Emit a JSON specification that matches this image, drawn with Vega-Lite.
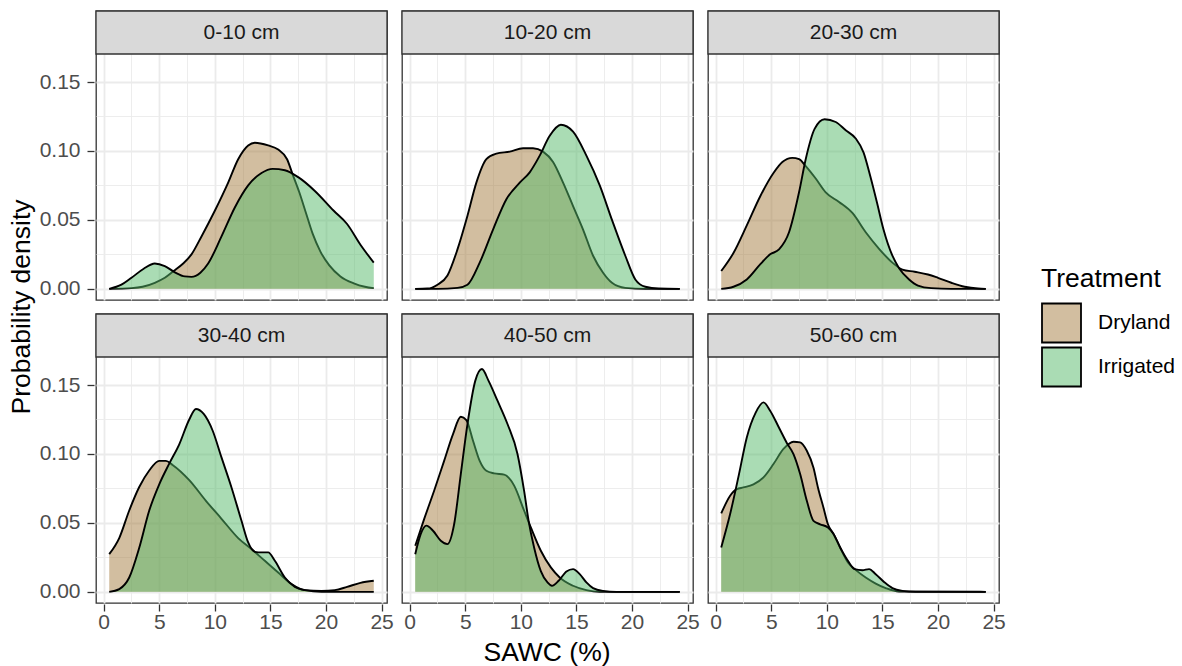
{
  "$schema": "https://vega.github.io/schema/vega-lite/v6.json",
  "padding": {"left": 8, "top": 9, "right": 5, "bottom": 0},
  "datasets": {
    "dens": [
      {"depth":"0-10 cm","treatment":"Dryland","sawc":0.5,"density":0},
      {"depth":"0-10 cm","treatment":"Dryland","sawc":2.5,"density":0.0005},
      {"depth":"0-10 cm","treatment":"Dryland","sawc":3.5,"density":0.0015},
      {"depth":"0-10 cm","treatment":"Dryland","sawc":4.6,"density":0.0044},
      {"depth":"0-10 cm","treatment":"Dryland","sawc":5.5,"density":0.008},
      {"depth":"0-10 cm","treatment":"Dryland","sawc":6.3,"density":0.0129},
      {"depth":"0-10 cm","treatment":"Dryland","sawc":7.1,"density":0.018},
      {"depth":"0-10 cm","treatment":"Dryland","sawc":7.9,"density":0.025},
      {"depth":"0-10 cm","treatment":"Dryland","sawc":8.8,"density":0.038},
      {"depth":"0-10 cm","treatment":"Dryland","sawc":10,"density":0.0566},
      {"depth":"0-10 cm","treatment":"Dryland","sawc":11.2,"density":0.077},
      {"depth":"0-10 cm","treatment":"Dryland","sawc":12.1,"density":0.094},
      {"depth":"0-10 cm","treatment":"Dryland","sawc":13,"density":0.104},
      {"depth":"0-10 cm","treatment":"Dryland","sawc":13.6,"density":0.106},
      {"depth":"0-10 cm","treatment":"Dryland","sawc":14.8,"density":0.104},
      {"depth":"0-10 cm","treatment":"Dryland","sawc":15.7,"density":0.101},
      {"depth":"0-10 cm","treatment":"Dryland","sawc":16.5,"density":0.094},
      {"depth":"0-10 cm","treatment":"Dryland","sawc":17,"density":0.083},
      {"depth":"0-10 cm","treatment":"Dryland","sawc":17.6,"density":0.07},
      {"depth":"0-10 cm","treatment":"Dryland","sawc":18.2,"density":0.055},
      {"depth":"0-10 cm","treatment":"Dryland","sawc":18.8,"density":0.04},
      {"depth":"0-10 cm","treatment":"Dryland","sawc":19.5,"density":0.027},
      {"depth":"0-10 cm","treatment":"Dryland","sawc":20.3,"density":0.017},
      {"depth":"0-10 cm","treatment":"Dryland","sawc":21.3,"density":0.009},
      {"depth":"0-10 cm","treatment":"Dryland","sawc":22.5,"density":0.004},
      {"depth":"0-10 cm","treatment":"Dryland","sawc":23.5,"density":0.0015},
      {"depth":"0-10 cm","treatment":"Dryland","sawc":24.3,"density":0.0005},

      {"depth":"0-10 cm","treatment":"Irrigated","sawc":0.5,"density":0},
      {"depth":"0-10 cm","treatment":"Irrigated","sawc":1.6,"density":0.003},
      {"depth":"0-10 cm","treatment":"Irrigated","sawc":2.5,"density":0.008},
      {"depth":"0-10 cm","treatment":"Irrigated","sawc":3.6,"density":0.0146},
      {"depth":"0-10 cm","treatment":"Irrigated","sawc":4.6,"density":0.0184},
      {"depth":"0-10 cm","treatment":"Irrigated","sawc":5.5,"density":0.0165},
      {"depth":"0-10 cm","treatment":"Irrigated","sawc":6.4,"density":0.012},
      {"depth":"0-10 cm","treatment":"Irrigated","sawc":7.3,"density":0.009},
      {"depth":"0-10 cm","treatment":"Irrigated","sawc":7.9,"density":0.0087},
      {"depth":"0-10 cm","treatment":"Irrigated","sawc":8.7,"density":0.0117},
      {"depth":"0-10 cm","treatment":"Irrigated","sawc":9.4,"density":0.0184},
      {"depth":"0-10 cm","treatment":"Irrigated","sawc":10.6,"density":0.038},
      {"depth":"0-10 cm","treatment":"Irrigated","sawc":11.8,"density":0.059},
      {"depth":"0-10 cm","treatment":"Irrigated","sawc":13,"density":0.075},
      {"depth":"0-10 cm","treatment":"Irrigated","sawc":14.2,"density":0.084},
      {"depth":"0-10 cm","treatment":"Irrigated","sawc":15.2,"density":0.087},
      {"depth":"0-10 cm","treatment":"Irrigated","sawc":16.3,"density":0.086},
      {"depth":"0-10 cm","treatment":"Irrigated","sawc":17.5,"density":0.081},
      {"depth":"0-10 cm","treatment":"Irrigated","sawc":19,"density":0.071},
      {"depth":"0-10 cm","treatment":"Irrigated","sawc":20.7,"density":0.0566},
      {"depth":"0-10 cm","treatment":"Irrigated","sawc":21.9,"density":0.047},
      {"depth":"0-10 cm","treatment":"Irrigated","sawc":23.1,"density":0.032},
      {"depth":"0-10 cm","treatment":"Irrigated","sawc":24.3,"density":0.019},

      {"depth":"10-20 cm","treatment":"Dryland","sawc":0.5,"density":0},
      {"depth":"10-20 cm","treatment":"Dryland","sawc":1.6,"density":0.0002},
      {"depth":"10-20 cm","treatment":"Dryland","sawc":2.5,"density":0.003},
      {"depth":"10-20 cm","treatment":"Dryland","sawc":3.4,"density":0.0097},
      {"depth":"10-20 cm","treatment":"Dryland","sawc":4.3,"density":0.0286},
      {"depth":"10-20 cm","treatment":"Dryland","sawc":5.2,"density":0.053},
      {"depth":"10-20 cm","treatment":"Dryland","sawc":6,"density":0.077},
      {"depth":"10-20 cm","treatment":"Dryland","sawc":6.9,"density":0.094},
      {"depth":"10-20 cm","treatment":"Dryland","sawc":7.8,"density":0.098},
      {"depth":"10-20 cm","treatment":"Dryland","sawc":9,"density":0.0995},
      {"depth":"10-20 cm","treatment":"Dryland","sawc":10.2,"density":0.102},
      {"depth":"10-20 cm","treatment":"Dryland","sawc":11.1,"density":0.102},
      {"depth":"10-20 cm","treatment":"Dryland","sawc":12,"density":0.0995},
      {"depth":"10-20 cm","treatment":"Dryland","sawc":12.9,"density":0.092},
      {"depth":"10-20 cm","treatment":"Dryland","sawc":13.8,"density":0.077},
      {"depth":"10-20 cm","treatment":"Dryland","sawc":14.7,"density":0.06},
      {"depth":"10-20 cm","treatment":"Dryland","sawc":15.6,"density":0.043},
      {"depth":"10-20 cm","treatment":"Dryland","sawc":16.5,"density":0.024},
      {"depth":"10-20 cm","treatment":"Dryland","sawc":17.4,"density":0.0117},
      {"depth":"10-20 cm","treatment":"Dryland","sawc":18.2,"density":0.0044},
      {"depth":"10-20 cm","treatment":"Dryland","sawc":19.4,"density":0.0007},
      {"depth":"10-20 cm","treatment":"Dryland","sawc":21.2,"density":0},
      {"depth":"10-20 cm","treatment":"Dryland","sawc":24.3,"density":0},

      {"depth":"10-20 cm","treatment":"Irrigated","sawc":0.5,"density":0},
      {"depth":"10-20 cm","treatment":"Irrigated","sawc":2.5,"density":0},
      {"depth":"10-20 cm","treatment":"Irrigated","sawc":4.3,"density":0.0007},
      {"depth":"10-20 cm","treatment":"Irrigated","sawc":5.2,"density":0.003},
      {"depth":"10-20 cm","treatment":"Irrigated","sawc":6.3,"density":0.019},
      {"depth":"10-20 cm","treatment":"Irrigated","sawc":7.5,"density":0.043},
      {"depth":"10-20 cm","treatment":"Irrigated","sawc":8.7,"density":0.065},
      {"depth":"10-20 cm","treatment":"Irrigated","sawc":9.9,"density":0.077},
      {"depth":"10-20 cm","treatment":"Irrigated","sawc":10.8,"density":0.0845},
      {"depth":"10-20 cm","treatment":"Irrigated","sawc":11.7,"density":0.0966},
      {"depth":"10-20 cm","treatment":"Irrigated","sawc":12.6,"density":0.111},
      {"depth":"10-20 cm","treatment":"Irrigated","sawc":13.6,"density":0.119},
      {"depth":"10-20 cm","treatment":"Irrigated","sawc":14.7,"density":0.114},
      {"depth":"10-20 cm","treatment":"Irrigated","sawc":15.9,"density":0.0966},
      {"depth":"10-20 cm","treatment":"Irrigated","sawc":17.1,"density":0.075},
      {"depth":"10-20 cm","treatment":"Irrigated","sawc":18.2,"density":0.05},
      {"depth":"10-20 cm","treatment":"Irrigated","sawc":19.4,"density":0.024},
      {"depth":"10-20 cm","treatment":"Irrigated","sawc":20.3,"density":0.0068},
      {"depth":"10-20 cm","treatment":"Irrigated","sawc":21.2,"density":0.0015},
      {"depth":"10-20 cm","treatment":"Irrigated","sawc":22.4,"density":0.0002},
      {"depth":"10-20 cm","treatment":"Irrigated","sawc":24.3,"density":0},

      {"depth":"20-30 cm","treatment":"Dryland","sawc":0.5,"density":0.0129},
      {"depth":"20-30 cm","treatment":"Dryland","sawc":1.6,"density":0.026},
      {"depth":"20-30 cm","treatment":"Dryland","sawc":2.8,"density":0.046},
      {"depth":"20-30 cm","treatment":"Dryland","sawc":4,"density":0.067},
      {"depth":"20-30 cm","treatment":"Dryland","sawc":5.2,"density":0.084},
      {"depth":"20-30 cm","treatment":"Dryland","sawc":6,"density":0.092},
      {"depth":"20-30 cm","treatment":"Dryland","sawc":6.9,"density":0.095},
      {"depth":"20-30 cm","treatment":"Dryland","sawc":7.5,"density":0.094},
      {"depth":"20-30 cm","treatment":"Dryland","sawc":8.1,"density":0.089},
      {"depth":"20-30 cm","treatment":"Dryland","sawc":9,"density":0.08},
      {"depth":"20-30 cm","treatment":"Dryland","sawc":9.9,"density":0.07},
      {"depth":"20-30 cm","treatment":"Dryland","sawc":11.1,"density":0.063},
      {"depth":"20-30 cm","treatment":"Dryland","sawc":12.3,"density":0.055},
      {"depth":"20-30 cm","treatment":"Dryland","sawc":13.5,"density":0.041},
      {"depth":"20-30 cm","treatment":"Dryland","sawc":14.7,"density":0.029},
      {"depth":"20-30 cm","treatment":"Dryland","sawc":15.9,"density":0.019},
      {"depth":"20-30 cm","treatment":"Dryland","sawc":16.8,"density":0.014},
      {"depth":"20-30 cm","treatment":"Dryland","sawc":17.9,"density":0.0124},
      {"depth":"20-30 cm","treatment":"Dryland","sawc":19.1,"density":0.0104},
      {"depth":"20-30 cm","treatment":"Dryland","sawc":20,"density":0.008},
      {"depth":"20-30 cm","treatment":"Dryland","sawc":21.2,"density":0.0044},
      {"depth":"20-30 cm","treatment":"Dryland","sawc":22.4,"density":0.0015},
      {"depth":"20-30 cm","treatment":"Dryland","sawc":23.6,"density":0.0002},
      {"depth":"20-30 cm","treatment":"Dryland","sawc":24.3,"density":0},

      {"depth":"20-30 cm","treatment":"Irrigated","sawc":0.5,"density":0},
      {"depth":"20-30 cm","treatment":"Irrigated","sawc":1.6,"density":0.0015},
      {"depth":"20-30 cm","treatment":"Irrigated","sawc":2.8,"density":0.0068},
      {"depth":"20-30 cm","treatment":"Irrigated","sawc":4,"density":0.0177},
      {"depth":"20-30 cm","treatment":"Irrigated","sawc":4.9,"density":0.025},
      {"depth":"20-30 cm","treatment":"Irrigated","sawc":5.7,"density":0.0286},
      {"depth":"20-30 cm","treatment":"Irrigated","sawc":6.6,"density":0.041},
      {"depth":"20-30 cm","treatment":"Irrigated","sawc":7.5,"density":0.07},
      {"depth":"20-30 cm","treatment":"Irrigated","sawc":8.1,"density":0.094},
      {"depth":"20-30 cm","treatment":"Irrigated","sawc":8.9,"density":0.116},
      {"depth":"20-30 cm","treatment":"Irrigated","sawc":9.8,"density":0.123},
      {"depth":"20-30 cm","treatment":"Irrigated","sawc":10.8,"density":0.121},
      {"depth":"20-30 cm","treatment":"Irrigated","sawc":11.7,"density":0.115},
      {"depth":"20-30 cm","treatment":"Irrigated","sawc":12.6,"density":0.109},
      {"depth":"20-30 cm","treatment":"Irrigated","sawc":13.3,"density":0.099},
      {"depth":"20-30 cm","treatment":"Irrigated","sawc":13.9,"density":0.082},
      {"depth":"20-30 cm","treatment":"Irrigated","sawc":14.5,"density":0.063},
      {"depth":"20-30 cm","treatment":"Irrigated","sawc":15.1,"density":0.043},
      {"depth":"20-30 cm","treatment":"Irrigated","sawc":15.9,"density":0.024},
      {"depth":"20-30 cm","treatment":"Irrigated","sawc":16.5,"density":0.015},
      {"depth":"20-30 cm","treatment":"Irrigated","sawc":17.4,"density":0.0068},
      {"depth":"20-30 cm","treatment":"Irrigated","sawc":18.2,"density":0.0024},
      {"depth":"20-30 cm","treatment":"Irrigated","sawc":19.4,"density":0.0005},
      {"depth":"20-30 cm","treatment":"Irrigated","sawc":21.2,"density":0},
      {"depth":"20-30 cm","treatment":"Irrigated","sawc":24.3,"density":0},

      {"depth":"30-40 cm","treatment":"Dryland","sawc":0.5,"density":0.0273},
      {"depth":"30-40 cm","treatment":"Dryland","sawc":1.4,"density":0.039},
      {"depth":"30-40 cm","treatment":"Dryland","sawc":2.3,"density":0.059},
      {"depth":"30-40 cm","treatment":"Dryland","sawc":3.2,"density":0.076},
      {"depth":"30-40 cm","treatment":"Dryland","sawc":4.1,"density":0.088},
      {"depth":"30-40 cm","treatment":"Dryland","sawc":5,"density":0.095},
      {"depth":"30-40 cm","treatment":"Dryland","sawc":5.6,"density":0.095},
      {"depth":"30-40 cm","treatment":"Dryland","sawc":6.2,"density":0.092},
      {"depth":"30-40 cm","treatment":"Dryland","sawc":7.7,"density":0.081},
      {"depth":"30-40 cm","treatment":"Dryland","sawc":9.2,"density":0.066},
      {"depth":"30-40 cm","treatment":"Dryland","sawc":10.6,"density":0.053},
      {"depth":"30-40 cm","treatment":"Dryland","sawc":12.1,"density":0.039},
      {"depth":"30-40 cm","treatment":"Dryland","sawc":13.3,"density":0.031},
      {"depth":"30-40 cm","treatment":"Dryland","sawc":14.5,"density":0.0225},
      {"depth":"30-40 cm","treatment":"Dryland","sawc":15.7,"density":0.014},
      {"depth":"30-40 cm","treatment":"Dryland","sawc":16.9,"density":0.0056},
      {"depth":"30-40 cm","treatment":"Dryland","sawc":18.1,"density":0.0012},
      {"depth":"30-40 cm","treatment":"Dryland","sawc":19.6,"density":0.0007},
      {"depth":"30-40 cm","treatment":"Dryland","sawc":20.8,"density":0.0012},
      {"depth":"30-40 cm","treatment":"Dryland","sawc":21.9,"density":0.0036},
      {"depth":"30-40 cm","treatment":"Dryland","sawc":23.1,"density":0.0065},
      {"depth":"30-40 cm","treatment":"Dryland","sawc":24.3,"density":0.008},

      {"depth":"30-40 cm","treatment":"Irrigated","sawc":0.5,"density":0},
      {"depth":"30-40 cm","treatment":"Irrigated","sawc":1.4,"density":0.002},
      {"depth":"30-40 cm","treatment":"Irrigated","sawc":2.3,"density":0.0104},
      {"depth":"30-40 cm","treatment":"Irrigated","sawc":3.2,"density":0.032},
      {"depth":"30-40 cm","treatment":"Irrigated","sawc":4.1,"density":0.059},
      {"depth":"30-40 cm","treatment":"Irrigated","sawc":5,"density":0.078},
      {"depth":"30-40 cm","treatment":"Irrigated","sawc":5.9,"density":0.093},
      {"depth":"30-40 cm","treatment":"Irrigated","sawc":6.8,"density":0.107},
      {"depth":"30-40 cm","treatment":"Irrigated","sawc":7.7,"density":0.125},
      {"depth":"30-40 cm","treatment":"Irrigated","sawc":8.3,"density":0.1326},
      {"depth":"30-40 cm","treatment":"Irrigated","sawc":9,"density":0.129},
      {"depth":"30-40 cm","treatment":"Irrigated","sawc":9.8,"density":0.117},
      {"depth":"30-40 cm","treatment":"Irrigated","sawc":10.6,"density":0.0975},
      {"depth":"30-40 cm","treatment":"Irrigated","sawc":11.5,"density":0.0757},
      {"depth":"30-40 cm","treatment":"Irrigated","sawc":12.4,"density":0.0515},
      {"depth":"30-40 cm","treatment":"Irrigated","sawc":13,"density":0.0358},
      {"depth":"30-40 cm","treatment":"Irrigated","sawc":13.6,"density":0.029},
      {"depth":"30-40 cm","treatment":"Irrigated","sawc":14.2,"density":0.0286},
      {"depth":"30-40 cm","treatment":"Irrigated","sawc":14.8,"density":0.0286},
      {"depth":"30-40 cm","treatment":"Irrigated","sawc":15.4,"density":0.0225},
      {"depth":"30-40 cm","treatment":"Irrigated","sawc":16.3,"density":0.0104},
      {"depth":"30-40 cm","treatment":"Irrigated","sawc":17.2,"density":0.0036},
      {"depth":"30-40 cm","treatment":"Irrigated","sawc":18.1,"density":0.0012},
      {"depth":"30-40 cm","treatment":"Irrigated","sawc":19.6,"density":0},
      {"depth":"30-40 cm","treatment":"Irrigated","sawc":24.3,"density":0},

      {"depth":"40-50 cm","treatment":"Dryland","sawc":0.5,"density":0.0334},
      {"depth":"40-50 cm","treatment":"Dryland","sawc":1.3,"density":0.0527},
      {"depth":"40-50 cm","treatment":"Dryland","sawc":2.2,"density":0.0733},
      {"depth":"40-50 cm","treatment":"Dryland","sawc":3.1,"density":0.095},
      {"depth":"40-50 cm","treatment":"Dryland","sawc":3.9,"density":0.1144},
      {"depth":"40-50 cm","treatment":"Dryland","sawc":4.6,"density":0.127},
      {"depth":"40-50 cm","treatment":"Dryland","sawc":5.1,"density":0.1246},
      {"depth":"40-50 cm","treatment":"Dryland","sawc":5.7,"density":0.1096},
      {"depth":"40-50 cm","treatment":"Dryland","sawc":6.3,"density":0.095},
      {"depth":"40-50 cm","treatment":"Dryland","sawc":6.9,"density":0.0878},
      {"depth":"40-50 cm","treatment":"Dryland","sawc":7.6,"density":0.0859},
      {"depth":"40-50 cm","treatment":"Dryland","sawc":8.5,"density":0.085},
      {"depth":"40-50 cm","treatment":"Dryland","sawc":9.4,"density":0.077},
      {"depth":"40-50 cm","treatment":"Dryland","sawc":10.3,"density":0.0588},
      {"depth":"40-50 cm","treatment":"Dryland","sawc":10.9,"density":0.0467},
      {"depth":"40-50 cm","treatment":"Dryland","sawc":11.8,"density":0.0298},
      {"depth":"40-50 cm","treatment":"Dryland","sawc":12.7,"density":0.0177},
      {"depth":"40-50 cm","treatment":"Dryland","sawc":13.5,"density":0.0104},
      {"depth":"40-50 cm","treatment":"Dryland","sawc":14.7,"density":0.0044},
      {"depth":"40-50 cm","treatment":"Dryland","sawc":15.9,"density":0.0012},
      {"depth":"40-50 cm","treatment":"Dryland","sawc":17.1,"density":0},
      {"depth":"40-50 cm","treatment":"Dryland","sawc":24.3,"density":0},

      {"depth":"40-50 cm","treatment":"Irrigated","sawc":0.5,"density":0.0273},
      {"depth":"40-50 cm","treatment":"Irrigated","sawc":1,"density":0.042},
      {"depth":"40-50 cm","treatment":"Irrigated","sawc":1.5,"density":0.048},
      {"depth":"40-50 cm","treatment":"Irrigated","sawc":2.1,"density":0.0443},
      {"depth":"40-50 cm","treatment":"Irrigated","sawc":2.8,"density":0.037},
      {"depth":"40-50 cm","treatment":"Irrigated","sawc":3.4,"density":0.0346},
      {"depth":"40-50 cm","treatment":"Irrigated","sawc":4,"density":0.049},
      {"depth":"40-50 cm","treatment":"Irrigated","sawc":4.6,"density":0.0854},
      {"depth":"40-50 cm","treatment":"Irrigated","sawc":5.2,"density":0.1217},
      {"depth":"40-50 cm","treatment":"Irrigated","sawc":5.9,"density":0.153},
      {"depth":"40-50 cm","treatment":"Irrigated","sawc":6.5,"density":0.1616},
      {"depth":"40-50 cm","treatment":"Irrigated","sawc":7.1,"density":0.153},
      {"depth":"40-50 cm","treatment":"Irrigated","sawc":7.9,"density":0.1386},
      {"depth":"40-50 cm","treatment":"Irrigated","sawc":8.8,"density":0.1217},
      {"depth":"40-50 cm","treatment":"Irrigated","sawc":9.7,"density":0.1},
      {"depth":"40-50 cm","treatment":"Irrigated","sawc":10.3,"density":0.073},
      {"depth":"40-50 cm","treatment":"Irrigated","sawc":10.7,"density":0.0515},
      {"depth":"40-50 cm","treatment":"Irrigated","sawc":11.2,"density":0.032},
      {"depth":"40-50 cm","treatment":"Irrigated","sawc":11.8,"density":0.015},
      {"depth":"40-50 cm","treatment":"Irrigated","sawc":12.4,"density":0.0068},
      {"depth":"40-50 cm","treatment":"Irrigated","sawc":12.8,"density":0.0044},
      {"depth":"40-50 cm","treatment":"Irrigated","sawc":13.4,"density":0.008},
      {"depth":"40-50 cm","treatment":"Irrigated","sawc":14.1,"density":0.0148},
      {"depth":"40-50 cm","treatment":"Irrigated","sawc":14.7,"density":0.0165},
      {"depth":"40-50 cm","treatment":"Irrigated","sawc":15.3,"density":0.0128},
      {"depth":"40-50 cm","treatment":"Irrigated","sawc":15.9,"density":0.0068},
      {"depth":"40-50 cm","treatment":"Irrigated","sawc":16.5,"density":0.0027},
      {"depth":"40-50 cm","treatment":"Irrigated","sawc":17.4,"density":0.0007},
      {"depth":"40-50 cm","treatment":"Irrigated","sawc":18.6,"density":0},
      {"depth":"40-50 cm","treatment":"Irrigated","sawc":24.3,"density":0},

      {"depth":"50-60 cm","treatment":"Dryland","sawc":0.5,"density":0.0569},
      {"depth":"50-60 cm","treatment":"Dryland","sawc":1.3,"density":0.0697},
      {"depth":"50-60 cm","treatment":"Dryland","sawc":1.9,"density":0.0745},
      {"depth":"50-60 cm","treatment":"Dryland","sawc":2.5,"density":0.0757},
      {"depth":"50-60 cm","treatment":"Dryland","sawc":3.4,"density":0.078},
      {"depth":"50-60 cm","treatment":"Dryland","sawc":4.3,"density":0.083},
      {"depth":"50-60 cm","treatment":"Dryland","sawc":5.2,"density":0.0927},
      {"depth":"50-60 cm","treatment":"Dryland","sawc":6.1,"density":0.1036},
      {"depth":"50-60 cm","treatment":"Dryland","sawc":7,"density":0.1089},
      {"depth":"50-60 cm","treatment":"Dryland","sawc":7.6,"density":0.1084},
      {"depth":"50-60 cm","treatment":"Dryland","sawc":8.2,"density":0.1023},
      {"depth":"50-60 cm","treatment":"Dryland","sawc":8.8,"density":0.09},
      {"depth":"50-60 cm","treatment":"Dryland","sawc":9.2,"density":0.0757},
      {"depth":"50-60 cm","treatment":"Dryland","sawc":9.7,"density":0.061},
      {"depth":"50-60 cm","treatment":"Dryland","sawc":10.1,"density":0.049},
      {"depth":"50-60 cm","treatment":"Dryland","sawc":10.6,"density":0.042},
      {"depth":"50-60 cm","treatment":"Dryland","sawc":11.2,"density":0.032},
      {"depth":"50-60 cm","treatment":"Dryland","sawc":11.9,"density":0.0213},
      {"depth":"50-60 cm","treatment":"Dryland","sawc":12.7,"density":0.0152},
      {"depth":"50-60 cm","treatment":"Dryland","sawc":13.5,"density":0.0104},
      {"depth":"50-60 cm","treatment":"Dryland","sawc":14.4,"density":0.006},
      {"depth":"50-60 cm","treatment":"Dryland","sawc":15.3,"density":0.0027},
      {"depth":"50-60 cm","treatment":"Dryland","sawc":16.5,"density":0.0002},
      {"depth":"50-60 cm","treatment":"Dryland","sawc":24.3,"density":0},

      {"depth":"50-60 cm","treatment":"Irrigated","sawc":0.5,"density":0.0322},
      {"depth":"50-60 cm","treatment":"Irrigated","sawc":1.3,"density":0.0564},
      {"depth":"50-60 cm","treatment":"Irrigated","sawc":2.1,"density":0.0854},
      {"depth":"50-60 cm","treatment":"Irrigated","sawc":2.8,"density":0.112},
      {"depth":"50-60 cm","treatment":"Irrigated","sawc":3.6,"density":0.13},
      {"depth":"50-60 cm","treatment":"Irrigated","sawc":4.3,"density":0.1374},
      {"depth":"50-60 cm","treatment":"Irrigated","sawc":4.9,"density":0.1314},
      {"depth":"50-60 cm","treatment":"Irrigated","sawc":5.7,"density":0.119},
      {"depth":"50-60 cm","treatment":"Irrigated","sawc":6.4,"density":0.108},
      {"depth":"50-60 cm","treatment":"Irrigated","sawc":7,"density":0.0999},
      {"depth":"50-60 cm","treatment":"Irrigated","sawc":7.6,"density":0.0854},
      {"depth":"50-60 cm","treatment":"Irrigated","sawc":8.2,"density":0.066},
      {"depth":"50-60 cm","treatment":"Irrigated","sawc":8.8,"density":0.0515},
      {"depth":"50-60 cm","treatment":"Irrigated","sawc":9.4,"density":0.049},
      {"depth":"50-60 cm","treatment":"Irrigated","sawc":10.1,"density":0.0467},
      {"depth":"50-60 cm","treatment":"Irrigated","sawc":10.6,"density":0.042},
      {"depth":"50-60 cm","treatment":"Irrigated","sawc":11.2,"density":0.0322},
      {"depth":"50-60 cm","treatment":"Irrigated","sawc":11.9,"density":0.0225},
      {"depth":"50-60 cm","treatment":"Irrigated","sawc":12.5,"density":0.0165},
      {"depth":"50-60 cm","treatment":"Irrigated","sawc":13.2,"density":0.0157},
      {"depth":"50-60 cm","treatment":"Irrigated","sawc":13.8,"density":0.0165},
      {"depth":"50-60 cm","treatment":"Irrigated","sawc":14.4,"density":0.0128},
      {"depth":"50-60 cm","treatment":"Irrigated","sawc":15.2,"density":0.0068},
      {"depth":"50-60 cm","treatment":"Irrigated","sawc":15.9,"density":0.0027},
      {"depth":"50-60 cm","treatment":"Irrigated","sawc":16.8,"density":0.0007},
      {"depth":"50-60 cm","treatment":"Irrigated","sawc":18,"density":0},
      {"depth":"50-60 cm","treatment":"Irrigated","sawc":24.3,"density":0}
    ]
  },
  "data": {"name": "dens"},
  "transform": [
    {"calculate": "indexof(['0-10 cm','10-20 cm','20-30 cm'], datum.depth) >= 0 ? 'upper' : 'lower'", "as": "prow"},
    {"calculate": "indexof(['0-10 cm','30-40 cm'], datum.depth) >= 0 ? 'a' : (indexof(['10-20 cm','40-50 cm'], datum.depth) >= 0 ? 'b' : 'c')", "as": "pcol"}
  ],
  "facet": {
    "row": {
      "field": "prow", "type": "nominal", "sort": ["upper", "lower"],
      "header": {"title": "Probability density", "labels": false, "labelPadding": 0, "titleFontSize": 26.5, "titleFontWeight": "normal", "titleColor": "black", "titlePadding": -6}
    },
    "column": {
      "field": "pcol", "type": "nominal", "sort": ["a", "b", "c"],
      "header": {"title": "SAWC (%)", "titleOrient": "bottom", "labels": false, "labelPadding": 0, "titleFontSize": 26.5, "titleFontWeight": "normal", "titleColor": "black", "titlePadding": -2}
    }
  },
  "spacing": {"row": 11, "column": 11},
  "spec": {
    "width": 291,
    "height": 289,
    "encoding": {
      "x": {
        "field": "sawc", "type": "quantitative", "title": null,
        "scale": {"domain": [-0.69, 25.49], "nice": false, "zero": false},
        "axis": {
          "values": [0, 2.5, 5, 7.5, 10, 12.5, 15, 17.5, 20, 22.5, 25],
          "labelExpr": "round(datum.value/2.5)%2 ? '' : datum.label",
          "tickOpacity": {"condition": {"test": "round(datum.value/2.5)%2 === 1", "value": 0}, "value": 1},
          "gridWidth": {"condition": {"test": "round(datum.value/2.5)%2 === 1", "value": 0.9}, "value": 1.8},
          "labelFlush": false,
          "labelPadding": 0
        }
      },
      "y": {
        "field": "density", "type": "quantitative", "title": null,
        "scale": {"domain": [-0.0081, 0.2015], "nice": false, "zero": false},
        "axis": {
          "values": [0, 0.025, 0.05, 0.075, 0.1, 0.125, 0.15],
          "format": ".2f",
          "labelExpr": "round(datum.value*40)%2 ? '' : datum.label",
          "tickOpacity": {"condition": {"test": "round(datum.value*40)%2 === 1", "value": 0}, "value": 1},
          "gridWidth": {"condition": {"test": "round(datum.value*40)%2 === 1", "value": 0.9}, "value": 1.8},
          "labelFlush": false,
          "labelPadding": 7
        }
      }
    },
    "layer": [
      {
        "transform": [{"filter": "datum.treatment === 'Dryland'"}],
        "mark": {"type": "area", "fillOpacity": 0.5, "interpolate": "monotone"},
        "encoding": {
          "fill": {
            "field": "treatment", "type": "nominal", "title": "Treatment",
            "scale": {"domain": ["Dryland", "Irrigated"], "range": ["#A67D41", "#55B96A"]},
            "legend": {
              "orient": "none", "legendX": 945, "legendY": 255,
              "titleFontSize": 26.5, "titleFontWeight": "normal", "titleColor": "black", "titlePadding": 10,
              "labelFontSize": 21, "labelColor": "black", "labelOffset": 16,
              "symbolType": "square", "symbolSize": 1521, "symbolStrokeColor": "black", "symbolStrokeWidth": 1.8,
              "rowPadding": -3,
              "encode": {"symbols": {"update": {"fillOpacity": {"value": 0.5}, "strokeOpacity": {"value": 1}, "opacity": {"value": 1}}}}
            }
          }
        }
      },
      {
        "transform": [{"filter": "datum.treatment === 'Dryland'"}],
        "mark": {"type": "line", "color": "black", "strokeWidth": 1.9, "interpolate": "monotone"},
        "encoding": {}
      },
      {
        "transform": [{"filter": "datum.treatment === 'Irrigated'"}],
        "mark": {"type": "area", "fillOpacity": 0.5, "interpolate": "monotone"},
        "encoding": {
          "fill": {"field": "treatment", "type": "nominal", "title": "Treatment"}
        }
      },
      {
        "transform": [{"filter": "datum.treatment === 'Irrigated'"}],
        "mark": {"type": "line", "color": "black", "strokeWidth": 1.9, "interpolate": "monotone"},
        "encoding": {}
      },
      {
        "transform": [{"filter": "datum.treatment === 'Dryland' && datum.sawc === 0.5"}],
        "mark": {"type": "rect", "fill": "#D9D9D9", "stroke": "#333333", "strokeWidth": 1.3},
        "encoding": {
          "x": {"datum": -0.69, "type": "quantitative"},
          "x2": {"datum": 25.49},
          "y": {"datum": 0.1703, "type": "quantitative"},
          "y2": {"datum": 0.2015}
        }
      },
      {
        "transform": [{"filter": "datum.treatment === 'Dryland' && datum.sawc === 0.5"}],
        "mark": {"type": "text", "fontSize": 21, "color": "#1A1A1A", "baseline": "middle", "align": "center"},
        "encoding": {
          "x": {"datum": 12.4, "type": "quantitative"},
          "y": {"datum": 0.1859, "type": "quantitative"},
          "text": {"field": "depth", "type": "nominal"}
        }
      }
    ]
  },
  "config": {
    "font": "Liberation Sans",
    "view": {"stroke": "#333333", "strokeWidth": 1.3},
    "axis": {
      "domain": false, "grid": true, "gridColor": "#EBEBEB",
      "tickColor": "#333333", "tickWidth": 1.3, "tickSize": 7,
      "labelColor": "#4D4D4D", "labelFontSize": 21,
      "titleFontSize": 26.5, "titleFontWeight": "normal", "titleColor": "black"
    }
  }
}
